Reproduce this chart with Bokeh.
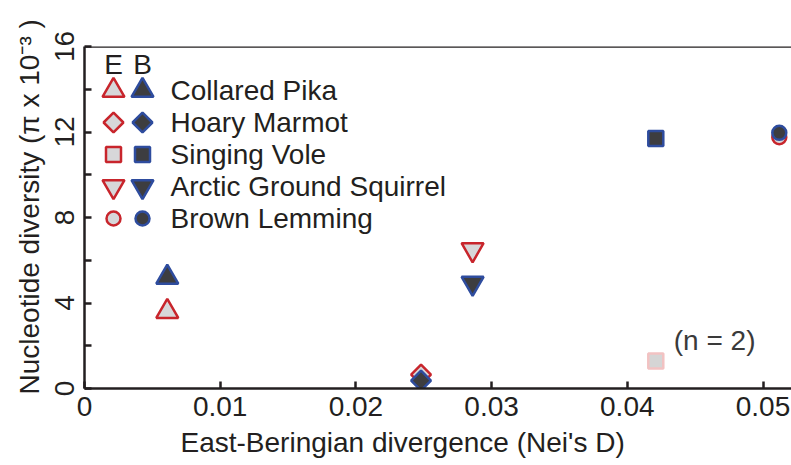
import math
from bokeh.plotting import figure
from bokeh.models import Range1d, FixedTicker, Label, Span, ColumnDataSource, Title
from bokeh.embed import file_html
from bokeh.resources import INLINE

# ---------------- data ----------------
species = ["Collared Pika", "Hoary Marmot", "Singing Vole",
           "Arctic Ground Squirrel", "Brown Lemming"]
divergence = [0.0061, 0.0248, 0.0421, 0.0286, 0.0512]      # Nei's D
pi_east = [3.6, 0.65, 1.29, 6.5, 11.76]                       # E (x 10^-3)
pi_bering = [5.2, 0.37, 11.7, 4.93, 11.96]                    # B (x 10^-3)
east_note = ["", "", "(n = 2)", "", ""]

x_ticks = [0, 0.01, 0.02, 0.03, 0.04, 0.05]
x_tick_labels = ["0", "0.01", "0.02", "0.03", "0.04", "0.05"]
y_ticks = [0, 4, 8, 12, 16]
y_minor = [2, 6, 10, 14]
y_tick_labels = ["0", "4", "8", "12", "16"]

x_title = "East-Beringian divergence (Nei's D)"
y_title = "Nucleotide diversity (π x 10⁻³ )"

# ---------------- styles ----------------
FONT = "Liberation Sans"
INK = "#231F20"
RED = "#C8252C"
BLUE = "#2E4C9E"
LIGHT = "#D7D7D9"
DARK = "#3D3D40"
FADED_LINE = "#F2C2C2"
FADED_FILL = "#D5D5D5"

marker_of = {"Collared Pika": "triangle", "Hoary Marmot": "square",
             "Singing Vole": "square", "Arctic Ground Squirrel": "inverted_triangle",
             "Brown Lemming": "circle"}
angle_of = {"Hoary Marmot": 45}
size_of = {"triangle": 22, "inverted_triangle": 22, "square": 15, "circle": 14}
diamond_size = 14

def msize(sp):
    if sp == "Hoary Marmot":
        return diamond_size
    return size_of[marker_of[sp]]

W, H = 791, 465
ML, MR, MT, MB = 84, 0, 46, 77
FW, FH = W - ML - MR, H - MT - MB

p = figure(width=W, height=H, x_range=Range1d(0, 0.0521), y_range=Range1d(0, 16),
           output_backend="svg", toolbar_location=None,
           min_border_left=ML, min_border_right=MR, min_border_top=MT,
           min_border_bottom=MB)
p.extra_x_ranges = {"px": Range1d(0, FW)}
p.extra_y_ranges = {"px": Range1d(0, FH)}
p.outline_line_color = None
p.grid.visible = False
p.background_fill_color = "white"
p.border_fill_color = "white"

for ax in (p.xaxis[0], p.yaxis[0]):
    ax.axis_line_color = INK
    ax.axis_line_width = 2.5
    ax.major_tick_line_color = INK
    ax.major_tick_line_width = 2.5
    ax.major_tick_in = 7
    ax.major_tick_out = 0
    ax.major_label_text_font = FONT
    ax.major_label_text_font_size = "28px"
    ax.major_label_text_color = INK

p.xaxis.ticker = FixedTicker(ticks=x_ticks, minor_ticks=[])
p.xaxis.major_label_overrides = {t: l for t, l in zip(x_ticks, x_tick_labels)}
p.xaxis.minor_tick_line_color = None
p.xaxis.major_label_standoff = 8

p.yaxis.ticker = FixedTicker(ticks=y_ticks, minor_ticks=y_minor)
p.yaxis.major_label_overrides = {t: l for t, l in zip(y_ticks, y_tick_labels)}
p.yaxis.minor_tick_line_color = INK
p.yaxis.minor_tick_line_width = 2.5
p.yaxis.minor_tick_in = 7
p.yaxis.minor_tick_out = 0
p.yaxis.major_label_orientation = "vertical"
p.yaxis.major_label_standoff = 11

p.add_layout(Span(location=16, dimension="width", line_color=INK, line_width=2.5))

# axis titles as side titles (positioned along the frame)
p.add_layout(Title(text=x_title, align="left", offset=96, standoff=13,
                   text_font=FONT, text_font_size="28px", text_font_style="normal",
                   text_color=INK), "below")
p.add_layout(Title(text=y_title, align="left", offset=-6, standoff=13,
                   text_font=FONT, text_font_size="28px", text_font_style="normal",
                   text_color=INK), "left")

# ---------------- data points ----------------
east_faded = [n != "" for n in east_note]

def source(values, line_colors, fill_colors):
    return ColumnDataSource(dict(
        x=divergence, y=values,
        marker=[marker_of[s] for s in species],
        angle=[angle_of.get(s, 0) for s in species],
        size=[msize(s) for s in species],
        line=line_colors, fill=fill_colors,
    ))

src_e = source(pi_east,
               [FADED_LINE if f else RED for f in east_faded],
               [FADED_FILL if f else LIGHT for f in east_faded])
src_b = source(pi_bering, [BLUE] * len(species), [DARK] * len(species))

for src in (src_e, src_b):
    p.scatter(x="x", y="y", source=src, marker="marker", size="size",
              angle="angle", angle_units="deg", fill_color="fill",
              line_color="line", line_width=2.5)

for sp, xv, yv, note in zip(species, divergence, pi_east, east_note):
    if note:
        p.add_layout(Label(x=xv, y=yv, text=note, x_offset=18, y_offset=20,
                           text_font=FONT, text_font_size="28px",
                           text_color="#3A3A3A", text_baseline="middle"))

# ---------------- legend (pixel coordinates inside the frame) ----------------
LEG_E_X, LEG_B_X, LEG_TXT_X = 29, 58, 86
LEG_TOP, LEG_STEP, LEG_HEAD_Y = 298, 32, 324
rows = [LEG_TOP - i * LEG_STEP for i in range(len(species))]
leg = ColumnDataSource(dict(
    xe=[LEG_E_X] * len(species), xb=[LEG_B_X] * len(species), y=rows,
    marker=[marker_of[s] for s in species],
    angle=[angle_of.get(s, 0) for s in species],
    size=[msize(s) for s in species],
))
p.scatter(x="xe", y="y", source=leg, marker="marker", size="size", angle="angle",
          angle_units="deg", fill_color=LIGHT, line_color=RED, line_width=2.5,
          x_range_name="px", y_range_name="px")
p.scatter(x="xb", y="y", source=leg, marker="marker", size="size", angle="angle",
          angle_units="deg", fill_color=DARK, line_color=BLUE, line_width=2.5,
          x_range_name="px", y_range_name="px")
for sp, yv in zip(species, rows):
    p.add_layout(Label(x=LEG_TXT_X, y=yv, text=sp, x_range_name="px", y_range_name="px",
                       text_font=FONT, text_font_size="28px", text_color=INK,
                       text_baseline="middle", text_align="left"))
for txt, xv in (("E", LEG_E_X), ("B", LEG_B_X)):
    p.add_layout(Label(x=xv, y=LEG_HEAD_Y, text=txt, x_range_name="px", y_range_name="px",
                       text_font=FONT, text_font_size="28px", text_color=INK,
                       text_baseline="middle", text_align="center"))

open("out.html", "w").write(file_html(p, INLINE))
